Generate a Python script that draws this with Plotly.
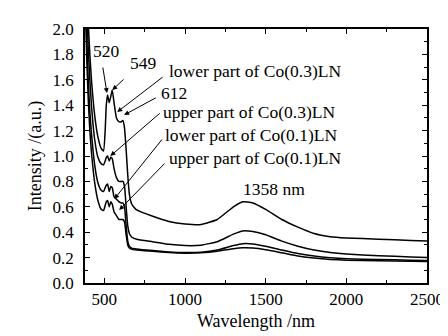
import plotly.graph_objects as go

wavelength = [380, 390, 400, 410, 420, 440, 460, 480, 495, 505, 512, 520, 530, 540, 549, 560, 575, 590, 605, 615, 625, 635, 645, 655, 670, 700,
              800, 900, 1000, 1100, 1200, 1300, 1358, 1420, 1500, 1600, 1700, 1800, 1900, 2000, 2200, 2400, 2500]

lower_co03 = [2.8, 2.35, 2.05, 1.8, 1.6, 1.32, 1.15, 1.06, 1.04, 1.2, 1.4, 1.48, 1.42, 1.47, 1.52, 1.42, 1.3, 1.27, 1.27, 1.28, 1.22, 1.05, 0.85, 0.7, 0.62, 0.575,
              0.525, 0.485, 0.465, 0.46, 0.5, 0.6, 0.64, 0.63, 0.58, 0.5, 0.44, 0.39, 0.365, 0.355, 0.345, 0.335, 0.33]
upper_co03 = [2.6, 2.2, 1.85, 1.6, 1.4, 1.13, 0.99, 0.94, 0.93, 0.96, 0.99, 1.0, 0.96, 0.99, 0.98, 0.9, 0.83, 0.8, 0.8, 0.8, 0.76, 0.6, 0.45, 0.39, 0.36, 0.345,
              0.325, 0.305, 0.295, 0.298, 0.325, 0.385, 0.41, 0.405, 0.38, 0.33, 0.29, 0.26, 0.24, 0.228, 0.215, 0.205, 0.2]
lower_co01 = [2.45, 1.95, 1.6, 1.35, 1.18, 0.93, 0.79, 0.73, 0.72, 0.75, 0.77, 0.78, 0.72, 0.76, 0.75, 0.68, 0.66, 0.64, 0.63, 0.63, 0.6, 0.45, 0.33, 0.29, 0.275, 0.268,
              0.255, 0.245, 0.24, 0.243, 0.26, 0.295, 0.31, 0.308, 0.29, 0.26, 0.232, 0.212, 0.198, 0.19, 0.185, 0.18, 0.178]
upper_co01 = [2.3, 1.8, 1.45, 1.2, 1.03, 0.79, 0.65, 0.58, 0.57, 0.61, 0.64, 0.65, 0.6, 0.64, 0.62, 0.56, 0.53, 0.5, 0.5, 0.5, 0.48, 0.38, 0.3, 0.275, 0.265, 0.26,
              0.25, 0.24, 0.235, 0.238, 0.25, 0.27, 0.277, 0.275, 0.262, 0.238, 0.213, 0.197, 0.186, 0.18, 0.175, 0.172, 0.17]

x_ticks = [500, 1000, 1500, 2000, 2500]
y_ticks = [0.0, 0.2, 0.4, 0.6, 0.8, 1.0, 1.2, 1.4, 1.6, 1.8, 2.0]
y_tick_labels = ["0.0", "0.2", "0.4", "0.6", "0.8", "1.0", "1.2", "1.4", "1.6", "1.8", "2.0"]

FONT = "Liberation Serif, Times New Roman, serif"
fig = go.Figure()
for ys in [lower_co03, upper_co03, lower_co01, upper_co01]:
    fig.add_trace(go.Scatter(x=wavelength, y=ys, mode="lines",
                             line=dict(color="black", width=1.5, shape="spline", smoothing=0.4),
                             showlegend=False))

X0, X1 = 380, 2500
PX0, PX1, PY0, PY1 = 77, 427, 275, 21

def px2x(px):
    return X0 + (px - PX0) * (X1 - X0) / (PX1 - PX0)

def py2y(py):
    return (PY0 - py) * 2.0 / (PY0 - PY1)

arrows = [((95, 58), (99.5, 85)),
          ((118, 70), (105, 82)),
          ((158, 68), (110, 104)),
          ((151, 89), (117, 107)),
          ((155, 104), (103, 148)),
          ((157, 130), (107, 191)),
          ((160, 154), (112, 202))]
for (tx, ty), (hx, hy) in arrows:
    fig.add_annotation(x=px2x(hx), y=py2y(hy), ax=px2x(tx), ay=py2y(ty), xref="x", yref="y",
                       axref="x", ayref="y", text="", showarrow=True, arrowhead=2, arrowsize=1,
                       arrowwidth=1, arrowcolor="black")

labels = [("520", 99, 43, "center"),
          ("549", 137, 55, "center"),
          ("lower part of Co(0.3)LN", 161, 63, "left"),
          ("612", 168, 85, "center"),
          ("upper part of Co(0.3)LN", 155, 104, "left"),
          ("lower part of Co(0.1)LN", 157, 127, "left"),
          ("upper part of Co(0.1)LN", 161, 150, "left"),
          ("1358 nm", 270, 181, "center")]
for t, px, py, anchor in labels:
    fig.add_annotation(x=px2x(px), y=py2y(py), xref="x", yref="y", text=t, showarrow=False,
                       xanchor=anchor, yanchor="middle", font=dict(family=FONT, size=17.5, color="black"))

axis_common = dict(showline=True, linecolor="black", linewidth=1.5, mirror="allticks",
                   ticks="inside", ticklen=5, tickwidth=1, tickcolor="black", showgrid=False,
                   zeroline=False, tickfont=dict(family=FONT, size=17, color="black"))
fig.update_xaxes(range=[X0, X1], tickvals=x_ticks, ticktext=[str(v) for v in x_ticks],
                 minor=dict(dtick=250, tick0=500, ticks="inside", ticklen=3, tickcolor="black"),
                 title=dict(text="Wavelength /nm", font=dict(family=FONT, size=18, color="black"), standoff=6),
                 **axis_common)
fig.update_yaxes(range=[0, 2.0], tickvals=y_ticks, ticktext=y_tick_labels,
                 minor=dict(dtick=0.1, tick0=0, ticks="inside", ticklen=3, tickcolor="black"),
                 title=dict(text="Intensity /(a.u.)", font=dict(family=FONT, size=18, color="black"), standoff=6),
                 ticklabelstandoff=6,
                 **axis_common)
fig.update_layout(width=448, height=336, margin=dict(l=77, r=21, t=21, b=61),
                  font=dict(family=FONT, size=17, color="black"),
                  plot_bgcolor="white", paper_bgcolor="white")
fig.write_html("out.html")
